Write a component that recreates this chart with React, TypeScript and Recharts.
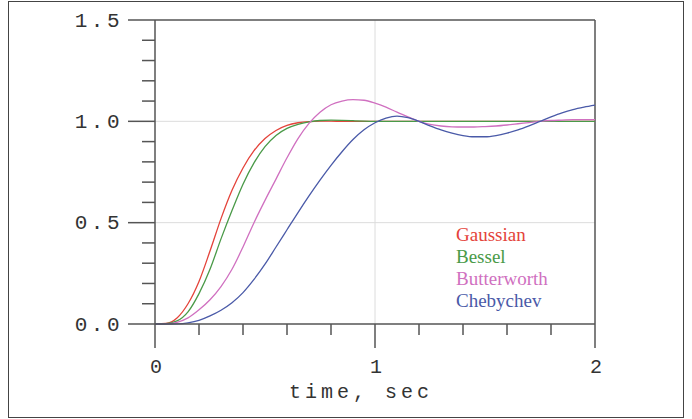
import React from "react";
import {
  LineChart,
  Line,
  XAxis,
  YAxis,
  CartesianGrid,
  ReferenceLine,
  Legend,
} from "recharts";

// step responses
const time = [
  0, 0.05, 0.1, 0.15, 0.2, 0.25, 0.3, 0.35, 0.4, 0.45, 0.5, 0.55, 0.6, 0.65,
  0.7, 0.75, 0.8, 0.85, 0.9, 0.95, 1, 1.05, 1.1, 1.15, 1.2, 1.25, 1.3, 1.35,
  1.4, 1.45, 1.5, 1.55, 1.6, 1.65, 1.7, 1.75, 1.8, 1.85, 1.9, 1.95, 2,
];

const gaussian = [
  0, 0.003, 0.03, 0.1, 0.21, 0.36, 0.52, 0.66, 0.77, 0.855, 0.915, 0.955,
  0.98, 0.993, 0.999, 1.001, 1.001, 1.0, 1.0, 1.0, 1.0, 1.0, 1.0, 1.0, 1.0,
  1.0, 1.0, 1.0, 1.0, 1.0, 1.0, 1.0, 1.0, 1.0, 1.0, 1.0, 1.0, 1.0, 1.0, 1.0,
  1.0,
];

const bessel = [
  0, 0.002, 0.015, 0.06, 0.15, 0.27, 0.42, 0.56, 0.69, 0.795, 0.875, 0.93,
  0.965, 0.985, 0.997, 1.004, 1.006, 1.005, 1.003, 1.001, 1.0, 1.0, 1.0, 1.0,
  1.0, 1.0, 1.0, 1.0, 1.0, 1.0, 1.0, 1.0, 1.0, 1.0, 1.0, 1.0, 1.0, 1.0, 1.0,
  1.0, 1.0,
];

const butterworth = [
  0, 0.001, 0.008, 0.03, 0.07, 0.12, 0.185, 0.27, 0.38, 0.5, 0.61, 0.715,
  0.82, 0.915, 0.99, 1.045, 1.082, 1.1, 1.107, 1.104, 1.09, 1.07, 1.045,
  1.022, 1.0, 0.985, 0.977, 0.973, 0.972, 0.972, 0.974, 0.977, 0.982, 0.988,
  0.994, 1.0, 1.004, 1.006, 1.008, 1.008, 1.008,
];

const chebychev = [
  0, 0, 0.001, 0.006, 0.018, 0.04, 0.068, 0.105, 0.155, 0.22, 0.295, 0.38,
  0.465, 0.55, 0.632, 0.71, 0.783, 0.85, 0.91, 0.958, 0.993, 1.016, 1.026,
  1.018, 1.0, 0.978, 0.958, 0.942, 0.93, 0.924, 0.924, 0.93, 0.942, 0.958,
  0.978, 1.0, 1.022, 1.042, 1.058, 1.07, 1.08,
];

const seriesNames = ["Gaussian", "Bessel", "Butterworth", "Chebychev"];

const xTicks = [0, 0.2, 0.4, 0.6, 0.8, 1, 1.2, 1.4, 1.6, 1.8, 2];
const yTicks = [
  0, 0.1, 0.2, 0.3, 0.4, 0.5, 0.6, 0.7, 0.8, 0.9, 1, 1.1, 1.2, 1.3, 1.4, 1.5,
];

const data = time.map((t, i) => ({
  t,
  gaussian: gaussian[i],
  bessel: bessel[i],
  butterworth: butterworth[i],
  chebychev: chebychev[i],
}));

const axisColor = "#555";
const textColor = "#333";
const monoFont = "'Liberation Mono', 'DejaVu Sans Mono', monospace";

const XTick = (props: any) => {
  const { x, y, payload } = props;
  const v = payload.value;
  const major = Math.abs(v - Math.round(v)) < 1e-6;
  return (
    <g>
      <line
        x1={x}
        x2={x}
        y1={y}
        y2={y + (major ? 24 : 11)}
        stroke={axisColor}
        strokeWidth={1.5}
      />
      {major && (
        <text
          x={x + 1}
          y={y + 43}
          textAnchor="middle"
          dominantBaseline="central"
          fill={textColor}
          fontFamily={monoFont}
          fontSize={20}
        >
          {Math.round(v)}
        </text>
      )}
    </g>
  );
};

const YTick = (props: any) => {
  const { x, y, payload } = props;
  const v = payload.value;
  const major = Math.abs(v * 2 - Math.round(v * 2)) < 1e-6;
  return (
    <g>
      <line
        x1={x}
        x2={x - (major ? 27 : 13)}
        y1={y}
        y2={y}
        stroke={axisColor}
        strokeWidth={1.5}
      />
      {major && (
        <text
          x={x - 32}
          y={y + 1}
          textAnchor="end"
          dominantBaseline="central"
          fill={textColor}
          fontFamily={monoFont}
          fontSize={21}
          letterSpacing={3.5}
        >
          {v.toFixed(1)}
        </text>
      )}
    </g>
  );
};

const renderLegend = (props: any) => {
  const items = [...props.payload].sort(
    (a: any, b: any) => seriesNames.indexOf(a.value) - seriesNames.indexOf(b.value)
  );
  return (
    <div>
      {items.map((entry: any) => (
        <div
          key={entry.value}
          style={{
            color: entry.color,
            fontFamily: "'Liberation Serif', serif",
            fontSize: 19,
            lineHeight: "22px",
          }}
        >
          {entry.value}
        </div>
      ))}
    </div>
  );
};

const AxisTitle = (props: any) => {
  const { viewBox } = props;
  const cx = viewBox.x + viewBox.width / 2 - 14;
  return (
    <text
      x={cx}
      y={viewBox.y + 68}
      textAnchor="middle"
      dominantBaseline="central"
      fill={textColor}
      fontFamily={monoFont}
      fontSize={20}
      letterSpacing={4}
    >
      time, sec
    </text>
  );
};

export default function App() {
  return (
    <div
      style={{
        position: "absolute",
        left: 0,
        top: 0,
        width: 692,
        height: 419,
        background: "#fff",
      }}
    >
      <div
        style={{
          position: "absolute",
          left: 8,
          top: 1,
          width: 676,
          height: 417,
          boxSizing: "border-box",
          border: "1.5px solid #444",
        }}
      />
      <div style={{ position: "absolute", left: 0, top: 0 }}>
        <LineChart
          width={692}
          height={419}
          data={data}
          margin={{ top: 20, right: 97, left: 154, bottom: 94 }}
        >
          <CartesianGrid
            stroke="#dcdcdc"
            horizontalValues={[0.5, 1]}
            verticalValues={[1]}
          />
          <XAxis
            dataKey="t"
            type="number"
            domain={[0, 2]}
            ticks={xTicks}
            interval={0}
            height={1}
            tickSize={0}
            tickMargin={0}
            tickLine={false}
            tick={<XTick />}
            axisLine={{ stroke: axisColor, strokeWidth: 1.5 }}
            label={{ value: "time, sec", content: <AxisTitle /> }}
          />
          <YAxis
            type="number"
            domain={[0, 1.5]}
            ticks={yTicks}
            interval={0}
            width={1}
            tickSize={0}
            tickMargin={0}
            tickLine={false}
            tick={<YTick />}
            axisLine={{ stroke: axisColor, strokeWidth: 1.5 }}
          />
          <ReferenceLine y={1.5} stroke={axisColor} strokeWidth={1.5} />
          <ReferenceLine x={2} stroke={axisColor} strokeWidth={1.5} />
          <Line
            type="monotone"
            dataKey="gaussian"
            name="Gaussian"
            stroke="#e4433a"
            strokeWidth={1.3}
            dot={false}
            isAnimationActive={false}
          />
          <Line
            type="monotone"
            dataKey="bessel"
            name="Bessel"
            stroke="#4a9a48"
            strokeWidth={1.3}
            dot={false}
            isAnimationActive={false}
          />
          <Line
            type="monotone"
            dataKey="butterworth"
            name="Butterworth"
            stroke="#d070c0"
            strokeWidth={1.3}
            dot={false}
            isAnimationActive={false}
          />
          <Line
            type="monotone"
            dataKey="chebychev"
            name="Chebychev"
            stroke="#4a5aa8"
            strokeWidth={1.3}
            dot={false}
            isAnimationActive={false}
          />
          <Legend
            layout="vertical"
            align="center"
            verticalAlign="middle"
            content={renderLegend}
            wrapperStyle={{ left: 456, top: 224, width: "auto", bottom: "auto" }}
          />
        </LineChart>
      </div>
    </div>
  );
}
